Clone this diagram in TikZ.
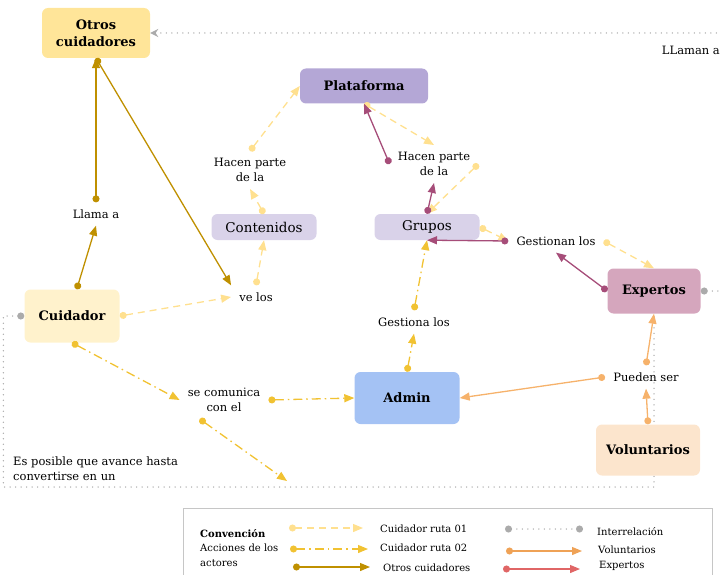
\documentclass[tikz,border=0pt]{standalone}
\usepackage{fontspec}
\setmainfont{DejaVu Serif}
\usetikzlibrary{arrows.meta,backgrounds}

\definecolor{c_otros}{HTML}{FFE599}
\definecolor{c_cuid}{HTML}{FFF2CC}
\definecolor{c_plat}{HTML}{B4A7D6}
\definecolor{c_grp}{HTML}{D9D2E9}
\definecolor{c_exp}{HTML}{D5A6BD}
\definecolor{c_admin}{HTML}{A4C2F4}
\definecolor{c_vol}{HTML}{FCE5CD}
\definecolor{c_ra}{HTML}{FFE08F}
\definecolor{c_rb}{HTML}{F1C232}
\definecolor{c_oc}{HTML}{BF9000}
\definecolor{c_ex}{HTML}{A64D79}
\definecolor{c_vo}{HTML}{F6B26B}
\definecolor{c_vk}{HTML}{EFA256}
\definecolor{c_ek}{HTML}{E06666}
\definecolor{c_inter}{HTML}{ABABAB}
\definecolor{c_frame}{HTML}{C6C6C6}

\begin{document}
\begin{tikzpicture}[x=1pt,y=-1pt,
  actor/.style={rounded corners=6pt,align=center,inner sep=2pt,font=\fontsize{13}{17}\selectfont\bfseries},
  lbl/.style={align=center,inner xsep=8pt,inner ysep=7pt,font=\fontsize{11.5}{15}\selectfont},
  key/.style={anchor=west,inner sep=0pt,font=\fontsize{10}{14.5}\selectfont},
  tips/.style={arrows={{Circle[length=7pt]}-{Triangle[length=10pt,width=8pt]}}},
  ruta_a/.style={tips,draw=c_ra,line width=1.3pt,dash pattern=on 7pt off 5pt},
  ruta_b/.style={tips,draw=c_rb,line width=1.3pt,dash pattern=on 9pt off 4pt on 1.5pt off 4pt},
  otros_ln/.style={tips,draw=c_oc,line width=1.3pt},
  exp_ln/.style={tips,draw=c_ex,line width=1.3pt},
  vol_ln/.style={tips,draw=c_vo,line width=1.3pt},
  inter_ln/.style={draw=c_inter,line width=1.5pt,line cap=round,dash pattern=on 0pt off 5.5pt}]
\useasboundingbox (0,0) rectangle (720,575);
\clip (0,0) rectangle (720,575);

\node[actor,fill=c_otros,minimum width=108pt,minimum height=50pt] (n_otros) at (96,33) {Otros\\cuidadores};
\node[actor,fill=c_plat,minimum width=128pt,minimum height=35pt] (n_plat) at (364,86) {Plataforma};
\node[actor,fill=c_grp,minimum width=105pt,minimum height=26pt,font=\fontsize{13.5}{15}\selectfont] (n_cont) at (264,227) {Contenidos};
\node[actor,fill=c_grp,minimum width=105pt,minimum height=26pt,font=\fontsize{13.5}{15}\selectfont] (n_grup) at (427,227) {Grupos};
\node[actor,fill=c_cuid,minimum width=95pt,minimum height=53pt] (n_cuid) at (72,316) {Cuidador};
\node[actor,fill=c_exp,minimum width=93pt,minimum height=45pt] (n_exp) at (654,291) {Expertos};
\node[actor,fill=c_admin,minimum width=105pt,minimum height=52pt] (n_admin) at (407,398) {Admin};
\node[actor,fill=c_vol,minimum width=104pt,minimum height=51pt] (n_vol) at (648,450) {Voluntarios};

\node[lbl] (l_llama) at (96,214) {Llama a};
\node[lbl] (l_velos) at (256,297) {ve los};
\node[lbl] (l_hpl) at (250,170) {Hacen parte\\de la};
\node[lbl] (l_hpr) at (434,164) {Hacen parte\\de la};
\node[lbl] (l_gest) at (556,241) {Gestionan los};
\node[lbl] (l_gestiona) at (414,322) {Gestiona los};
\node[lbl] (l_pueden) at (646,377) {Pueden ser};
\node[lbl] (l_secom) at (224,400) {se comunica\\con el};
\node[lbl,anchor=east,inner xsep=0pt] (l_llaman) at (720,50) {LLaman a};
\node[lbl,align=left,anchor=west,inner xsep=0pt] (l_posible) at (13,469) {Es posible que avance hasta\\convertirse en un};
\coordinate (c_avance) at (287,481);

\begin{scope}[on background layer]
\draw[inter_ln,arrows={{Circle[length=7pt]}-{Stealth[length=8pt,width=8pt]}}] (n_exp.east) -- ++(25,0) |- (n_otros.east);
\draw[inter_ln,arrows={{Circle[length=7pt]}-}] (n_cuid.west) -- ++(-21,0) -- ++(0,171) -| (n_exp.south);
\end{scope}

\draw[otros_ln] (n_cuid.80) -- (l_llama.south);
\draw[otros_ln] (l_llama.north) -- (n_otros.south);
\draw[otros_ln] (n_otros.south) -- (l_velos.north west);

\draw[ruta_a] (n_cuid.east) -- (l_velos.west);
\draw[ruta_a] (l_velos.north) -- (n_cont.south);
\draw[ruta_a] (n_cont.north) -- (l_hpl.south);
\draw[ruta_a] (l_hpl.north) -- (n_plat.west);
\draw[ruta_a] (n_plat.south) -- (l_hpr.north);
\draw[ruta_a] (l_hpr.east) -- (n_grup.north);
\draw[ruta_a] (n_grup.east) -- (l_gest.west);
\draw[ruta_a] (l_gest.east) -- (n_exp.north);

\draw[ruta_b] (n_cuid.south) -- (l_secom.west);
\draw[ruta_b] (l_secom.east) -- (n_admin.west);
\draw[ruta_b] (l_secom.-142) -- (c_avance);
\draw[ruta_b] (n_admin.north) -- (l_gestiona.south);
\draw[ruta_b] (l_gestiona.north) -- (n_grup.south);

\draw[exp_ln] (n_exp.west) -- (l_gest.south);
\draw[exp_ln] (l_gest.west) -- (n_grup.south);
\draw[exp_ln] (n_grup.north) -- (l_hpr.south);
\draw[exp_ln] (l_hpr.west) -- (n_plat.south);

\draw[vol_ln] (n_vol.north) -- (l_pueden.south);
\draw[vol_ln] (l_pueden.north) -- (n_exp.south);
\draw[vol_ln] (l_pueden.west) -- (n_admin.east);

\draw[draw=c_frame,line width=0.8pt] (183,508) rectangle (712,600);
\node[key,align=left] (k_conv) at (200,548) {\textbf{Convención}\\Acciones de los\\actores};
\node[key] (k_ra) at (380,529) {Cuidador ruta 01};
\node[key] (k_rb) at (380,548) {Cuidador ruta 02};
\node[key] (k_oc) at (383,568) {Otros cuidadores};
\node[key] (k_in) at (597,532) {Interrelación};
\node[key] (k_vo) at (598,550) {Voluntarios};
\node[key] (k_ex) at (599,566) {Expertos};
\draw[ruta_a,line width=1.2pt] (289,528) -- (363,528);
\draw[ruta_b,line width=1.2pt] (290,549) -- (368,549);
\draw[otros_ln,line width=1.2pt] (293,567) -- (370,567);
\draw[inter_ln,arrows={{Circle[length=7pt]}-{Circle[length=7pt]}}] (505,529) -- (583,529);
\draw[tips,draw=c_vk,line width=1.2pt] (506,551) -- (582,551);
\draw[tips,draw=c_ek,line width=1.2pt] (503,569) -- (580,569);
\end{tikzpicture}
\end{document}
